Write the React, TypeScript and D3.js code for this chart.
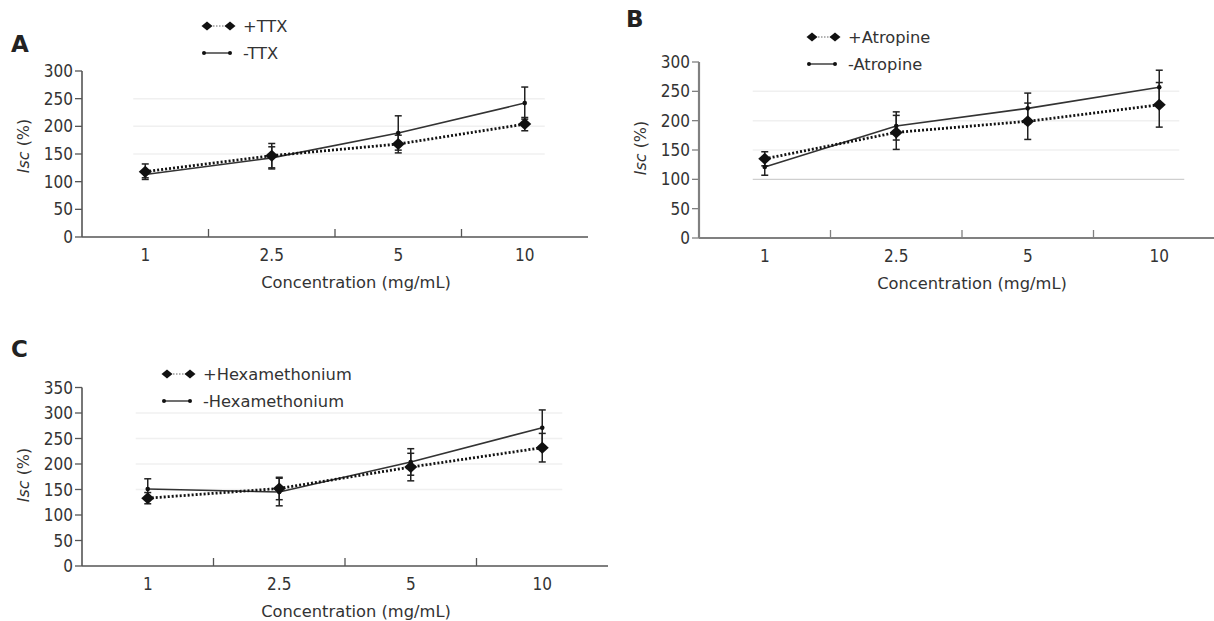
import * as d3 from "d3";

const concentrations = ["1", "2.5", "5", "10"];

// panel A
const ttxPlus = [118, 147, 168, 204];
const ttxPlusErr = [14, 22, 16, 12];
const ttxMinus = [113, 143, 188, 242];
const ttxMinusErr = [6, 20, 31, 29];

// panel B
const atropinePlus = [135, 180, 199, 227];
const atropinePlusErr = [12, 29, 31, 38];
const atropineMinus = [121, 191, 221, 257];
const atropineMinusErr = [14, 24, 26, 29];

// panel C
const hexPlus = [133, 152, 194, 232];
const hexPlusErr = [11, 22, 27, 28];
const hexMinus = [151, 145, 204, 271];
const hexMinusErr = [20, 27, 26, 35];

const ticks300 = [0, 50, 100, 150, 200, 250, 300];
const ticks350 = [0, 50, 100, 150, 200, 250, 300, 350];

const FONT = "'DejaVu Sans Condensed', 'Liberation Sans', Arial, sans-serif";
const FONT_WIDE = "'DejaVu Sans', Verdana, sans-serif";

type PanelProps = {
  letter: string;
  letterX: number;
  letterY: number;
  left: number;
  band: number;
  top: number;
  bottom: number;
  yMax: number;
  yTicks: number[];
  grid: number[];
  strongGrid?: number[];
  plus: number[];
  plusErr: number[];
  minus: number[];
  minusErr: number[];
  labelPlus: string;
  labelMinus: string;
  legendX: number;
  legendY: number;
  axisColor: string;
  axisWidth: number;
  titleX: number;
  titleCy: number;
  xTitleDx: number;
};

function Panel(p: PanelProps) {
  const x = d3
    .scaleBand<string>()
    .domain(concentrations)
    .range([p.left, p.left + p.band * concentrations.length]);
  const y = d3.scaleLinear().domain([0, p.yMax]).range([p.bottom, p.top]);
  const cx = (c: string) => (x(c) as number) + x.bandwidth() / 2;

  const line = d3
    .line<number>()
    .x((d, i) => cx(concentrations[i]))
    .y((d) => y(d));

  const diamond = (px: number, py: number, key: string, w = 5.5, h = 4.5) => (
    <path
      key={key}
      d={`M${px - w},${py} L${px},${py - h} L${px + w},${py} L${px},${py + h} Z`}
      fill="#111"
    />
  );

  const errBars = (vals: number[], errs: number[], k: string) =>
    vals.map((v, i) => {
      const px = cx(concentrations[i]);
      return (
        <g key={k + i} stroke="#222" strokeWidth={1.5}>
          <line x1={px} x2={px} y1={y(v + errs[i])} y2={y(v - errs[i])} />
          <line x1={px - 3.5} x2={px + 3.5} y1={y(v + errs[i])} y2={y(v + errs[i])} />
          <line x1={px - 3.5} x2={px + 3.5} y1={y(v - errs[i])} y2={y(v - errs[i])} />
        </g>
      );
    });

  const xStart = cx(concentrations[0]) - 12;
  const xEnd = cx(concentrations[concentrations.length - 1]) + 20;

  return (
    <g fontFamily={FONT} fill="#333">
      <text x={p.letterX} y={p.letterY} fontSize={23} fontWeight="bold" fill="#222" fontFamily={FONT_WIDE}>
        {p.letter}
      </text>

      {/* faint grid */}
      {p.grid.map((g) => (
        <line key={"g" + g} x1={xStart} x2={xEnd} y1={y(g)} y2={y(g)} stroke="#f0f0f0" strokeWidth={1.5} />
      ))}
      {(p.strongGrid || []).map((g) => (
        <line key={"sg" + g} x1={xStart} x2={xEnd + 5} y1={y(g)} y2={y(g)} stroke="#cfcfcf" strokeWidth={1.2} />
      ))}

      {/* y axis */}
      <line x1={p.left} x2={p.left} y1={y(p.yMax)} y2={p.bottom} stroke={p.axisColor} strokeWidth={p.axisWidth} />
      {p.yTicks.map((t) => (
        <g key={"yt" + t}>
          <line x1={p.left - 7} x2={p.left} y1={y(t)} y2={y(t)} stroke={p.axisColor} strokeWidth={1.3} />
          <text x={p.left - 9} y={y(t)} dy="0.36em" textAnchor="end" fontSize={17}>
            {t}
          </text>
        </g>
      ))}
      <text
        transform={`translate(${p.titleX},${p.titleCy}) rotate(-90)`}
        textAnchor="middle"
        dy="0.36em"
        fontSize={16}
        fontFamily={FONT_WIDE}
      >
        <tspan fontStyle="italic">Isc</tspan> (%)
      </text>

      {/* x axis */}
      <line
        x1={p.left}
        x2={p.left + p.band * concentrations.length}
        y1={p.bottom}
        y2={p.bottom}
        stroke={p.axisColor}
        strokeWidth={p.axisWidth}
      />
      {concentrations.slice(1).map((c) => (
        <line key={"xt" + c} x1={x(c)} x2={x(c)} y1={p.bottom} y2={p.bottom - 8} stroke={p.axisColor} strokeWidth={1.3} />
      ))}
      {concentrations.map((c) => (
        <text key={"xl" + c} x={cx(c)} y={p.bottom + 24} textAnchor="middle" fontSize={17}>
          {c}
        </text>
      ))}
      <text
        x={x(concentrations[0])! + p.band * 2 + p.xTitleDx}
        y={p.bottom + 51}
        textAnchor="middle"
        fontSize={16.3}
        fontFamily={FONT_WIDE}
      >
        Concentration (mg/mL)
      </text>

      {/* series */}
      <path d={line(p.minus) || ""} fill="none" stroke="#333" strokeWidth={1.6} />
      <path d={line(p.plus) || ""} fill="none" stroke="#111" strokeWidth={2.8} strokeDasharray="2 2" />
      {errBars(p.minus, p.minusErr, "me")}
      {errBars(p.plus, p.plusErr, "pe")}
      {p.minus.map((v, i) => (
        <circle key={"mc" + i} cx={cx(concentrations[i])} cy={y(v)} r={2.3} fill="#111" />
      ))}
      {p.plus.map((v, i) => diamond(cx(concentrations[i]), y(v), "pd" + i, 6.5, 6))}

      {/* legend */}
      <g fontFamily={FONT_WIDE}>
        <line x1={p.legendX} x2={p.legendX + 23} y1={p.legendY} y2={p.legendY} stroke="#666" strokeWidth={1} strokeDasharray="1.5 1.5" />
        {diamond(p.legendX, p.legendY, "l1")}
        {diamond(p.legendX + 23, p.legendY, "l2")}
        <text x={p.legendX + 36} y={p.legendY} dy="0.36em" fontSize={16.3}>
          {p.labelPlus}
        </text>
        <line x1={p.legendX - 3} x2={p.legendX + 23} y1={p.legendY + 27} y2={p.legendY + 27} stroke="#222" strokeWidth={1.3} />
        <circle cx={p.legendX - 3} cy={p.legendY + 27} r={2} fill="#111" />
        <circle cx={p.legendX + 23} cy={p.legendY + 27} r={2} fill="#111" />
        <text x={p.legendX + 36} y={p.legendY + 27} dy="0.36em" fontSize={16.3}>
          {p.labelMinus}
        </text>
      </g>
    </g>
  );
}

export default function App() {
  return (
    <svg
      width={1214}
      height={621}
      style={{ position: "absolute", left: 0, top: 0, background: "#fff" }}
    >
      <rect width={1214} height={621} fill="#fff" />
      <Panel
        letter="A"
        letterX={11}
        letterY={52}
        left={82}
        band={126.5}
        top={71}
        bottom={237}
        yMax={300}
        yTicks={ticks300}
        grid={[150, 200, 250]}
        plus={ttxPlus}
        plusErr={ttxPlusErr}
        minus={ttxMinus}
        minusErr={ttxMinusErr}
        labelPlus="+TTX"
        labelMinus="-TTX"
        legendX={207}
        legendY={26}
        axisColor="#555"
        axisWidth={1.6}
        titleX={23}
        titleCy={146}
        xTitleDx={21}
      />
      <Panel
        letter="B"
        letterX={626}
        letterY={27}
        left={699}
        band={131.5}
        top={62}
        bottom={238}
        yMax={300}
        yTicks={ticks300}
        grid={[150, 200, 250]}
        strongGrid={[100]}
        plus={atropinePlus}
        plusErr={atropinePlusErr}
        minus={atropineMinus}
        minusErr={atropineMinusErr}
        labelPlus="+Atropine"
        labelMinus="-Atropine"
        legendX={812}
        legendY={37}
        axisColor="#808080"
        axisWidth={2.2}
        titleX={640}
        titleCy={148}
        xTitleDx={10}
      />
      <Panel
        letter="C"
        letterX={11}
        letterY={357}
        left={82}
        band={131.5}
        top={387.5}
        bottom={566}
        yMax={350}
        yTicks={ticks350}
        grid={[150, 200, 250, 300]}
        plus={hexPlus}
        plusErr={hexPlusErr}
        minus={hexMinus}
        minusErr={hexMinusErr}
        labelPlus="+Hexamethonium"
        labelMinus="-Hexamethonium"
        legendX={167}
        legendY={374}
        axisColor="#555"
        axisWidth={1.6}
        titleX={23}
        titleCy={475}
        xTitleDx={11}
      />
    </svg>
  );
}
